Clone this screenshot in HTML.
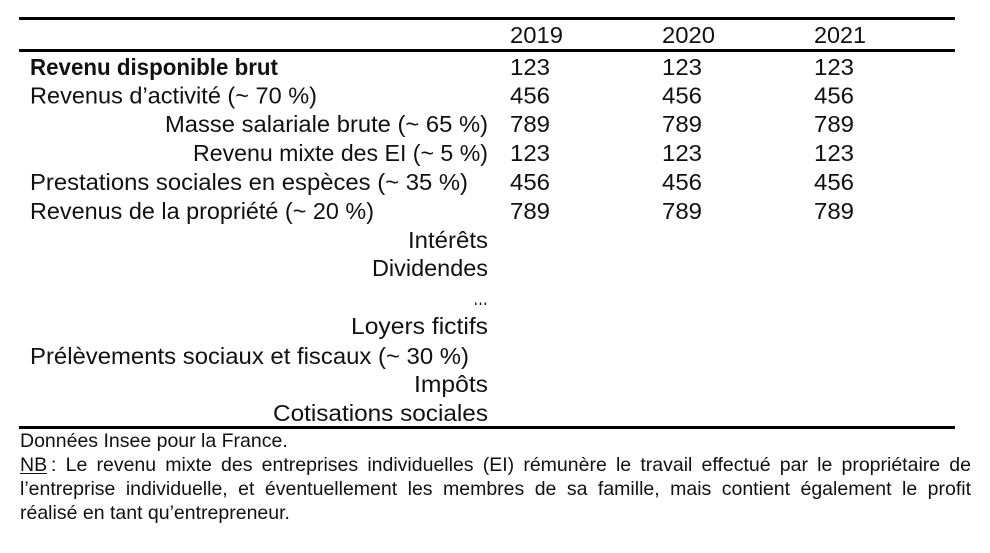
<!DOCTYPE html>
<html lang="fr">
<head>
<meta charset="utf-8">
<title>Revenu disponible brut</title>
<style>
html,body{margin:0;padding:0;background:#fff;}
body{width:990px;height:553px;overflow:hidden;position:relative;font-family:"Liberation Sans",sans-serif;color:#111;}
svg{position:absolute;left:0;top:0;}
svg text{font-family:"Liberation Sans",sans-serif;font-size:23.5px;fill:#111;}
svg text.b{font-weight:bold;}
.note{position:absolute;left:20px;width:951px;font-size:19.5px;line-height:24px;white-space:nowrap;color:#111;}
.j{text-align:justify;text-align-last:justify;white-space:normal;}
.note u{text-underline-offset:2px;}
</style>
</head>
<body>
<svg width="990" height="553" viewBox="0 0 990 553">
  <rect x="19" y="17" width="936" height="3" fill="#000"/>
  <rect x="19" y="49" width="936" height="3" fill="#000"/>
  <rect x="19" y="426" width="936" height="3" fill="#000"/>

  <text x="510" y="43" textLength="53" lengthAdjust="spacingAndGlyphs">2019</text>
  <text x="662" y="43" textLength="53" lengthAdjust="spacingAndGlyphs">2020</text>
  <text x="814" y="43" textLength="52" lengthAdjust="spacingAndGlyphs">2021</text>

  <text class="b" x="30" y="75" textLength="248" lengthAdjust="spacingAndGlyphs">Revenu disponible brut</text>
  <text x="30" y="103.5" textLength="287" lengthAdjust="spacingAndGlyphs">Revenus d’activité (~ 70 %)</text>
  <text x="165" y="132" textLength="323" lengthAdjust="spacingAndGlyphs">Masse salariale brute (~ 65 %)</text>
  <text x="193" y="161" textLength="295" lengthAdjust="spacingAndGlyphs">Revenu mixte des EI (~ 5 %)</text>
  <text x="30" y="190" textLength="438" lengthAdjust="spacingAndGlyphs">Prestations sociales en espèces (~ 35 %)</text>
  <text x="30" y="219" textLength="344" lengthAdjust="spacingAndGlyphs">Revenus de la propriété (~ 20 %)</text>
  <text x="408" y="248" textLength="80" lengthAdjust="spacingAndGlyphs">Intérêts</text>
  <text x="372" y="276" textLength="116" lengthAdjust="spacingAndGlyphs">Dividendes</text>
  <text x="473" y="305" textLength="15" lengthAdjust="spacingAndGlyphs">…</text>
  <text x="351" y="334" textLength="137" lengthAdjust="spacingAndGlyphs">Loyers fictifs</text>
  <text x="30" y="364" textLength="439" lengthAdjust="spacingAndGlyphs">Prélèvements sociaux et fiscaux (~ 30 %)</text>
  <text x="414" y="392" textLength="74" lengthAdjust="spacingAndGlyphs">Impôts</text>
  <text x="273" y="421" textLength="215" lengthAdjust="spacingAndGlyphs">Cotisations sociales</text>

  <g>
    <text x="510" y="75" textLength="40" lengthAdjust="spacingAndGlyphs">123</text>
    <text x="510" y="103.5" textLength="40" lengthAdjust="spacingAndGlyphs">456</text>
    <text x="510" y="132" textLength="40" lengthAdjust="spacingAndGlyphs">789</text>
    <text x="510" y="161" textLength="40" lengthAdjust="spacingAndGlyphs">123</text>
    <text x="510" y="190" textLength="40" lengthAdjust="spacingAndGlyphs">456</text>
    <text x="510" y="219" textLength="40" lengthAdjust="spacingAndGlyphs">789</text>
  </g>
  <g>
    <text x="662" y="75" textLength="40" lengthAdjust="spacingAndGlyphs">123</text>
    <text x="662" y="103.5" textLength="40" lengthAdjust="spacingAndGlyphs">456</text>
    <text x="662" y="132" textLength="40" lengthAdjust="spacingAndGlyphs">789</text>
    <text x="662" y="161" textLength="40" lengthAdjust="spacingAndGlyphs">123</text>
    <text x="662" y="190" textLength="40" lengthAdjust="spacingAndGlyphs">456</text>
    <text x="662" y="219" textLength="40" lengthAdjust="spacingAndGlyphs">789</text>
  </g>
  <g>
    <text x="814" y="75" textLength="40" lengthAdjust="spacingAndGlyphs">123</text>
    <text x="814" y="103.5" textLength="40" lengthAdjust="spacingAndGlyphs">456</text>
    <text x="814" y="132" textLength="40" lengthAdjust="spacingAndGlyphs">789</text>
    <text x="814" y="161" textLength="40" lengthAdjust="spacingAndGlyphs">123</text>
    <text x="814" y="190" textLength="40" lengthAdjust="spacingAndGlyphs">456</text>
    <text x="814" y="219" textLength="40" lengthAdjust="spacingAndGlyphs">789</text>
  </g>
</svg>

<div class="note" style="top:429px">Données Insee pour la France.</div>
<div class="note j" style="top:453px"><u>NB</u>&#8239;: Le revenu mixte des entreprises individuelles (EI) rémunère le travail effectué par le propriétaire de</div>
<div class="note j" style="top:477px">l’entreprise individuelle, et éventuellement les membres de sa famille, mais contient également le profit</div>
<div class="note" style="top:501px">réalisé en tant qu’entrepreneur.</div>
</body>
</html>
